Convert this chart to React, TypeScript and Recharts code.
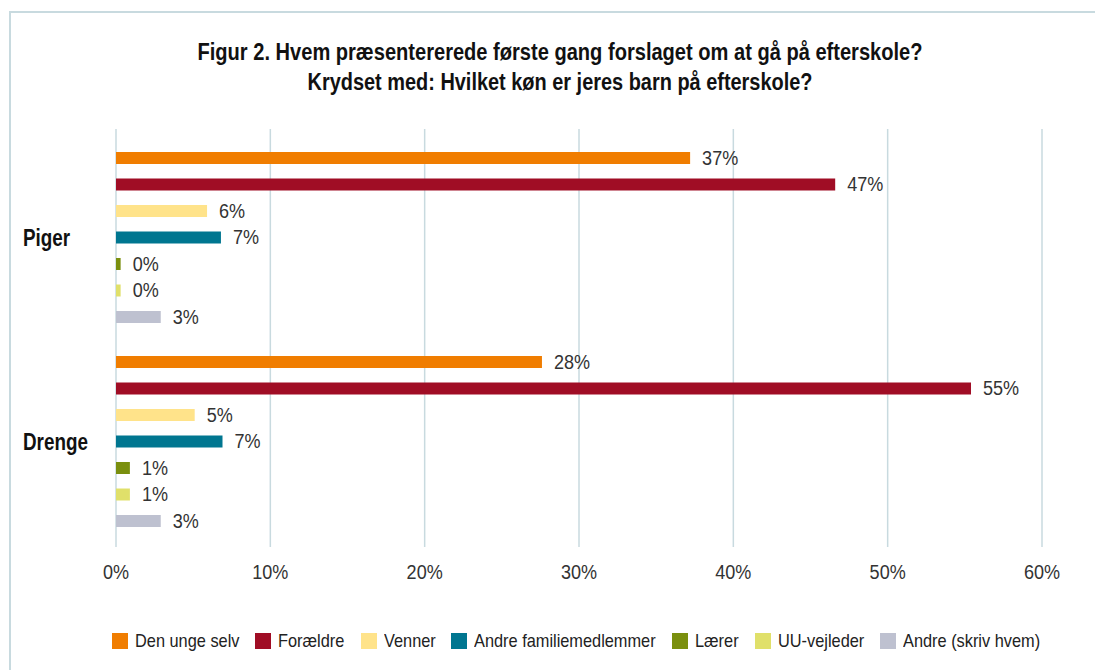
import React from 'react';
import { BarChart, Bar, XAxis, YAxis, CartesianGrid, Legend, LabelList } from 'recharts';

const categories = ['Piger', 'Drenge'];
const denUngeSelv = [37.2, 27.6];
const foraeldre = [46.6, 55.4];
const venner = [5.9, 5.1];
const andreFamilie = [6.8, 6.9];
const laerer = [0.3, 0.9];
const uuVejleder = [0.3, 0.9];
const andreSkriv = [2.9, 2.9];
const xTicks = [0, 10, 20, 30, 40, 50, 60];

const seriesNames = ['Den unge selv', 'Forældre', 'Venner', 'Andre familiemedlemmer', 'Lærer', 'UU-vejleder', 'Andre (skriv hvem)'];
const seriesColors = ['#F07D00', '#A00D25', '#FFE38A', '#007690', '#7A8F0E', '#E0E06A', '#BEC1D0'];
const seriesValues = [denUngeSelv, foraeldre, venner, andreFamilie, laerer, uuVejleder, andreSkriv];

const data = categories.map((name, i) => {
  const row: Record<string, any> = { name };
  seriesNames.forEach((s, k) => { row['s' + k] = seriesValues[k][i]; });
  return row;
});

const FONT = "'Liberation Sans', Arial, sans-serif";
const SX = 0.86;

const ScaledText = ({ x, y, anchor = 'start', size, weight = 'normal', fill = '#333', sx = SX, baseline, children }: any) => (
  <text
    transform={`translate(${x},${y}) scale(${sx},1)`}
    x={0}
    y={0}
    textAnchor={anchor}
    dominantBaseline={baseline}
    fontFamily={FONT}
    fontSize={size}
    fontWeight={weight}
    fill={fill}
  >
    {children}
  </text>
);

const XTick = (props: any) => {
  const { x, payload } = props;
  return <ScaledText x={x} y={578.5} anchor="middle" size={21} fill="#333">{payload.value + '%'}</ScaledText>;
};

const YTick = (props: any) => {
  const { y, payload } = props;
  return <ScaledText x={23} y={y + 8.5} anchor="start" size={23} weight="bold" fill="#111" sx={0.82}>{payload.value}</ScaledText>;
};

const ValueLabel = (props: any) => {
  const { x, y, width, height, value } = props;
  return (
    <ScaledText x={Number(x) + Number(width) + 12} y={Number(y) + Number(height) / 2 + 6.5} anchor="start" size={21} fill="#333">
      {Math.round(Number(value)) + '%'}
    </ScaledText>
  );
};

let measureCtx: CanvasRenderingContext2D | null = null;
const measure = (t: string, size: number) => {
  if (!measureCtx && typeof document !== 'undefined') {
    measureCtx = document.createElement('canvas').getContext('2d');
  }
  if (!measureCtx) return t.length * size * 0.5;
  measureCtx.font = `${size}px 'Liberation Sans', Arial, sans-serif`;
  return measureCtx.measureText(t).width;
};

const LEG_SIZE = 19;

const LegendContent = () => (
  <div style={{ display: 'flex', justifyContent: 'center', alignItems: 'center', fontFamily: FONT, fontSize: LEG_SIZE, color: '#222', whiteSpace: 'nowrap' }}>
    {seriesNames.map((n, k) => {
      const w = measure(n, LEG_SIZE) * SX;
      return (
        <div key={n} style={{ display: 'flex', alignItems: 'center', marginRight: k < seriesNames.length - 1 ? 16 : 0 }}>
          <span style={{ display: 'inline-block', width: 16, height: 16, background: seriesColors[k], marginRight: 7 }} />
          <span style={{ display: 'inline-block', width: w, overflow: 'visible' }}>
            <span style={{ display: 'inline-block', transform: `scaleX(${SX})`, transformOrigin: 'left center' }}>{n}</span>
          </span>
        </div>
      );
    })}
  </div>
);

export default function App() {
  return (
    <div style={{ position: 'absolute', left: 0, top: 0, width: 1095, height: 670, background: '#fff', overflow: 'hidden' }}>
      <div style={{ position: 'absolute', left: 9, top: 11, width: 1200, height: 800, borderTop: '2px solid #C8DADF', borderLeft: '2px solid #C8DADF' }} />
      <svg style={{ position: 'absolute', left: 0, top: 0 }} width={1095} height={120}>
        <text x={560} y={60} textAnchor="middle" fontFamily={FONT} fontSize={23} fontWeight="bold" fill="#111" textLength={725} lengthAdjust="spacingAndGlyphs">
          Figur 2. Hvem præsentererede første gang forslaget om at gå på efterskole?
        </text>
        <text x={560} y={90} textAnchor="middle" fontFamily={FONT} fontSize={23} fontWeight="bold" fill="#111" textLength={505} lengthAdjust="spacingAndGlyphs">
          Krydset med: Hvilket køn er jeres barn på efterskole?
        </text>
      </svg>
      <div style={{ position: 'absolute', left: 0, top: 0 }}>
        <BarChart
          width={1095}
          height={670}
          data={data}
          layout="vertical"
          margin={{ top: 135, right: 53, bottom: 97, left: 0 }}
          barGap={14.5}
        >
          <CartesianGrid horizontal={false} vertical={true} stroke="#C8DADF" strokeWidth={1.5} y={129} height={418} />
          <XAxis type="number" domain={[0, 60]} ticks={xTicks} height={30} axisLine={false} tickLine={false} tick={<XTick />} interval={0} />
          <YAxis type="category" dataKey="name" width={116} axisLine={false} tickLine={false} tick={<YTick />} />
          <Legend verticalAlign="middle" align="center" wrapperStyle={{ top: 630, left: 57, width: 1038 }} content={<LegendContent />} />
          {seriesNames.map((n, k) => (
            <Bar key={n} dataKey={'s' + k} name={n} fill={seriesColors[k]} barSize={12} isAnimationActive={false}>
              <LabelList dataKey={'s' + k} content={<ValueLabel />} />
            </Bar>
          ))}
        </BarChart>
      </div>
    </div>
  );
}
